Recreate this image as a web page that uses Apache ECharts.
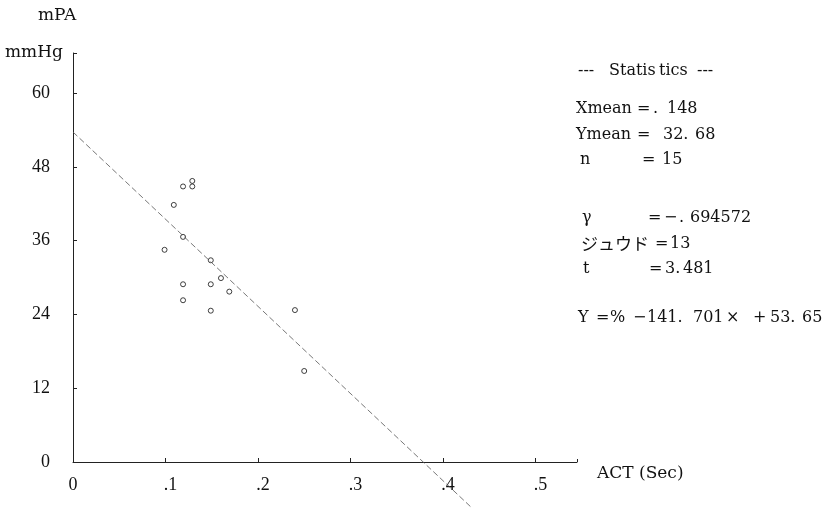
<!DOCTYPE html>
<html><head><meta charset="utf-8">
<script src="https://cdn.jsdelivr.net/npm/echarts@6/dist/echarts.min.js"></script>
<style>html,body{margin:0;padding:0;background:#fff}#c{width:827px;height:508px}</style>
</head><body><div id="c"></div>
<script>
const actSec = [0.119, 0.129, 0.129, 0.109, 0.119, 0.099, 0.149, 0.160, 0.119, 0.149, 0.169, 0.119, 0.149, 0.240, 0.250];
const mpaMmHg = [44.8, 45.7, 44.8, 41.8, 36.6, 34.5, 32.8, 29.9, 28.9, 28.9, 27.7, 26.3, 24.6, 24.7, 14.8];
const regLineX = [0, 0.432];
const regLineY = [53.65, -7.56];
const yTicks = [0, 12, 24, 36, 48, 60];
const xTickLabels = {0: '0', 0.1: '.1', 0.2: '.2', 0.3: '.3', 0.4: '.4', 0.5: '.5'};
// statistics text, split into pieces: [text, left x]
const statsLines = [
  [['---', 578], ['Statis', 609], ['tics', 659], ['---', 697]],
  [['Xmean', 576], ['=', 637], ['.', 653], ['148', 667]],
  [['Ymean', 576], ['=', 637], ['32.', 663], ['68', 695]],
  [['n', 580], ['=', 642], ['15', 662]],
  [['γ', 582], ['=', 648], ['−', 664], ['.', 679], ['694572', 690]],
  [['ジュウド', 581], ['=', 655], ['13', 670]],
  [['t', 583], ['=', 649], ['3.', 665], ['481', 683]],
  [['Y', 578], ['=', 596], ['%', 610], ['−', 633], ['141.', 647], ['701', 693], ['×', 726], ['+', 753], ['53.', 770], ['65', 802]]
];
const statsY = [73, 111, 137, 162, 220, 246, 271, 320];

const font = '"DejaVu Serif", "Liberation Serif", serif';
const jpFont = '"Noto Sans CJK JP", sans-serif';
const tickFont = '"Liberation Serif", "DejaVu Serif", serif';
const chart = echarts.init(document.getElementById('c'));
const xFmt = v => {
  const k = Math.round(v * 10) / 10;
  const t = xTickLabels[k];
  if (t === undefined) return '';
  return k === 0 ? '{z|' + t + '}' : '{d|' + t + '}';
};
const baseX = {
  type: 'value', min: 0, max: 0.545, interval: 0.1,
  splitLine: {show: false},
  axisLine: {show: true, onZero: false, lineStyle: {color: '#222', width: 1}},
  axisTick: {show: true, inside: true, length: 4, lineStyle: {color: '#222'}},
  axisLabel: {show: true, margin: 14, color: '#111', fontFamily: tickFont, fontSize: 18, formatter: xFmt, showMaxLabel: false,
    rich: {z: {fontFamily: tickFont, fontSize: 18, color: '#111'}, d: {fontFamily: tickFont, fontSize: 18, color: '#111', padding: [0, 0, 0, 10]}}}
};
const baseY = {
  type: 'value', min: 0, max: 66.5, interval: 12,
  splitLine: {show: false},
  axisLine: {show: true, onZero: false, lineStyle: {color: '#222', width: 1}},
  axisTick: {show: true, inside: true, length: 4, lineStyle: {color: '#222'}},
  axisLabel: {show: true, margin: 23, color: '#111', fontFamily: tickFont, fontSize: 18,
    formatter: v => yTicks.indexOf(v) >= 0 ? String(v) : '', showMaxLabel: false}
};
const graphics = [
  {type: 'text', left: 38, top: 7, style: {text: 'mPA', font: '17px ' + font, fill: '#111'}},
  {type: 'text', left: 5, top: 44, style: {text: 'mmHg', font: '17px ' + font, fill: '#111'}},
  {type: 'text', left: 597, top: 465, style: {text: 'ACT (Sec)', font: '17px ' + font, fill: '#111'}}
];
statsLines.forEach((line, i) => {
  line.forEach(([t, x]) => {
    const isJp = /[\u3040-\u30ff]/.test(t);
    graphics.push({type: 'text', left: x, top: statsY[i] - (isJp ? 11 : 10),
      style: {text: t, font: (isJp ? '17px ' + jpFont : '16px ' + font), fill: '#111'}});
  });
});
chart.setOption({
  animation: false,
  backgroundColor: '#fff',
  grid: {left: 73, top: 53, right: 250, bottom: 46, containLabel: false},
  xAxis: [baseX, Object.assign({}, baseX, {axisLine: {show: false}, axisTick: {show: true, inside: false, length: 3, lineStyle: {color: '#222'}}, axisLabel: {show: false}})],
  yAxis: [baseY, Object.assign({}, baseY, {axisLine: {show: false}, axisTick: {show: true, inside: false, length: 4, lineStyle: {color: '#222'}}, axisLabel: {show: false}})],
  series: [
    {
      type: 'line', xAxisIndex: 0, yAxisIndex: 0, clip: false, symbol: 'none',
      data: regLineX.map((x, i) => [x, regLineY[i]]),
      lineStyle: {color: '#555', width: 0.8, type: [6, 3]}
    },
    {
      type: 'scatter', xAxisIndex: 0, yAxisIndex: 0, symbol: 'circle', symbolSize: 5,
      data: actSec.map((x, i) => [x, mpaMmHg[i]]),
      itemStyle: {color: '#fff', borderColor: '#111', borderWidth: 1}
    }
  ],
  graphic: graphics
});
</script></body></html>
